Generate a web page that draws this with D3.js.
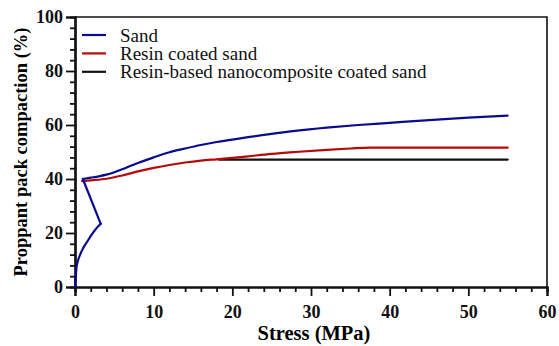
<!DOCTYPE html>
<html>
<head>
<meta charset="utf-8">
<script src="https://cdn.jsdelivr.net/npm/d3@7"></script>
</head>
<body style="margin:0">
<script>
var W = 559, H = 346;
var margin = {left: 75, right: 12, top: 17, bottom: 59};

// data
// sand: loading branch up to the cusp, jump back, then the compaction branch
var sandStress = [0, 0.1, 0.2, 0.4, 0.65, 1.0, 1.3, 1.7, 2.1, 2.6, 3.27,
                  1.0, 2, 3, 4, 5, 6, 7, 8, 10, 12, 14, 16, 18, 20, 22, 25, 28, 32, 36, 40, 45, 50, 55];
var sandComp = [0, 4, 7.5, 10, 12, 14.2, 15.7, 17.5, 19.3, 21.3, 23.4,
                40, 40.5, 41, 41.6, 42.5, 43.6, 44.8, 45.9, 48, 49.9, 51.3, 52.6, 53.7, 54.6, 55.5, 56.7, 57.8, 59.0, 60.0, 60.8, 61.8, 62.7, 63.5];
var sandCusp = 10; // index of the turning point
var resinStress = [0.9, 2, 4, 6, 8, 10, 12, 14, 16, 18, 20, 22, 25, 28, 32, 35, 37.5, 45, 55];
var resinComp = [39.2, 39.5, 40.1, 41.3, 42.8, 44.1, 45.2, 46.1, 46.8, 47.3, 47.8, 48.4, 49.3, 50, 50.8, 51.3, 51.6, 51.6, 51.6];
var nanoStress = [18.3, 55];
var nanoComp = [47.2, 47.2];

var seriesNames = ["Sand", "Resin coated sand", "Resin-based nanocomposite coated sand"];
var seriesColors = ["#0b0b8e", "#b40a0a", "#111111"];
var xTicks = [0, 10, 20, 30, 40, 50, 60];
var yTicks = [0, 20, 40, 60, 80, 100];

var svg = d3.select("body").append("svg")
    .attr("width", W).attr("height", H)
    .style("display", "block");

var x = d3.scaleLinear().domain([0, 60]).range([margin.left, W - margin.right]);
var y = d3.scaleLinear().domain([0, 100]).range([H - margin.bottom, margin.top]);

function serifText(sel) {
  sel.attr("font-family", "Liberation Serif")
     .style("font-family", function() { return "'Liberation Serif'"; });
}

// frame (top and right)
svg.append("path")
    .attr("d", "M" + x(0) + "," + y(100) + "H" + x(60) + "V" + y(0))
    .attr("fill", "none").attr("stroke", "#111").attr("stroke-width", 1.6);

// minor ticks
var xMinor = d3.range(0, 61, 2).filter(function(d) { return d % 10 !== 0; });
var yMinor = d3.range(0, 101, 4).filter(function(d) { return d % 20 !== 0; });

var gx = svg.append("g").attr("transform", "translate(0," + y(0) + ")");
gx.call(d3.axisBottom(x).tickValues(xMinor).tickSize(5).tickFormat(""));
gx.append("g").call(d3.axisBottom(x).tickValues(xTicks).tickSize(9).tickPadding(9));

var gy = svg.append("g").attr("transform", "translate(" + x(0) + ",0)");
gy.call(d3.axisLeft(y).tickValues(yMinor).tickSize(5).tickFormat(""));
gy.append("g").call(d3.axisLeft(y).tickValues(yTicks).tickSize(9).tickPadding(3));

svg.selectAll("g").attr("font-family", "Liberation Serif");
svg.selectAll(".domain").attr("stroke", "#111").attr("stroke-width", 2.2);
svg.selectAll(".tick line").attr("stroke", "#111").attr("stroke-width", 1.8);
svg.selectAll(".tick text")
    .call(serifText).attr("font-weight", "bold")
    .attr("font-size", 18).attr("fill", "#111");

// axis titles
svg.append("text")
    .attr("x", (x(0) + x(60)) / 2 + 3).attr("y", 340)
    .attr("text-anchor", "middle")
    .call(serifText).attr("font-weight", "bold").attr("font-size", 20.5)
    .text("Stress (MPa)");

svg.append("text")
    .attr("transform", "translate(27," + ((y(0) + y(100)) / 2) + ") rotate(-90)")
    .attr("text-anchor", "middle")
    .call(serifText).attr("font-weight", "bold").attr("font-size", 18.5)
    .text("Proppant pack compaction (%)");

// lines
var smooth = d3.line()
    .x(function(d) { return x(d[0]); })
    .y(function(d) { return y(d[1]); })
    .curve(d3.curveMonotoneX);
var straight = d3.line()
    .x(function(d) { return x(d[0]); })
    .y(function(d) { return y(d[1]); });

var sand = d3.zip(sandStress, sandComp);
var pieces = [
  {d: smooth(d3.zip(nanoStress, nanoComp)), c: seriesColors[2]},
  {d: smooth(d3.zip(resinStress, resinComp)), c: seriesColors[1]},
  {d: smooth(sand.slice(0, sandCusp + 1)), c: seriesColors[0]},
  {d: straight(sand.slice(sandCusp, sandCusp + 2)), c: seriesColors[0]},
  {d: smooth(sand.slice(sandCusp + 1)), c: seriesColors[0]}
];

svg.append("g").selectAll("path")
    .data(pieces)
    .join("path")
    .attr("d", function(p) { return p.d; })
    .attr("fill", "none")
    .attr("stroke", function(p) { return p.c; })
    .attr("stroke-width", 2.2)
    .attr("stroke-linejoin", "round")
    .attr("stroke-linecap", "round");

// legend
var legend = svg.append("g").selectAll("g")
    .data(seriesNames)
    .join("g")
    .attr("transform", function(d, i) { return "translate(82," + (35 + i * 18.4) + ")"; });

legend.append("line")
    .attr("x1", 0).attr("x2", 24)
    .attr("stroke", function(d, i) { return seriesColors[i]; })
    .attr("stroke-width", 2.2);

legend.append("text")
    .attr("x", 38).attr("dy", "0.35em")
    .call(serifText).attr("font-size", 19).attr("fill", "#111")
    .text(function(d) { return d; });
</script>
</body>
</html>
